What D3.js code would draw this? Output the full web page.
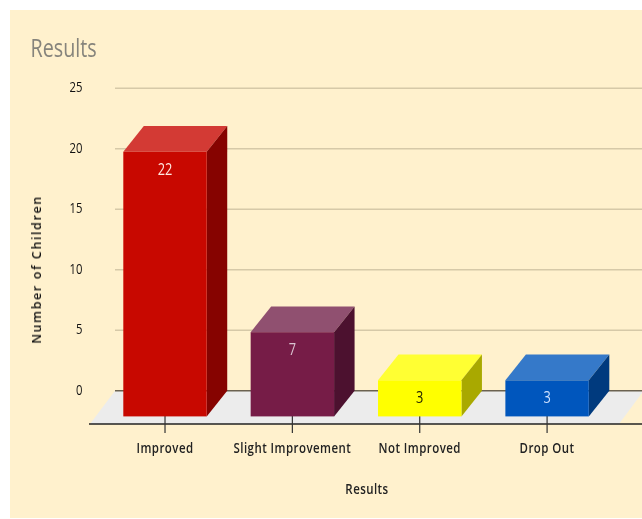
<!DOCTYPE html>
<html><head><meta charset="utf-8">
<script src="https://cdnjs.cloudflare.com/ajax/libs/d3/7.8.5/d3.min.js"></script>
<style>html,body{margin:0;padding:0;background:#fff}svg{display:block}
text{font-family:"Open Sans","Noto Sans",sans-serif;filter:blur(0.3px)}</style></head>
<body><svg id="c" width="642" height="519"></svg>
<script>
const categories=["Improved","Slight Improvement","Not Improved","Drop Out"];
const values=[22,7,3,3];
const yTicks=[0,5,10,15,20,25];
const frontColors=["#c80800","#761c47","#ffff00","#0056bd"];
const topColors=["#d33a34","#905070","#ffff33","#3579c9"];
const sideColors=["#860300","#4c112f","#a9a900","#003a7e"];
const labelColors=["#ffe9e0","#d9c3d0","#222200","#cfe2ff"];

const svg=d3.select("#c");
const W=642;
svg.append("rect").attr("x",10).attr("y",10).attr("width",W-10).attr("height",508).attr("fill","#fff1cd");

const y=d3.scaleLinear().domain([0,25]).range([390.7,88.2]);
const barH=d3.scaleLinear().domain([0,25]).range([0,300.7]);
const x=d3.scaleBand().domain(categories).range([101.4,610.7]).paddingInner(0.345).paddingOuter(0.172);
const dx=20.5, dy=25.7;
const base=y(0)+dy;

function label(sel,t,px,py,size,opts={}){
  return sel.append("text").attr("transform",`translate(${px},${py}) scale(${opts.sx||0.8},1)`)
    .attr("text-anchor",opts.anchor||"middle").attr("font-size",size)
    .attr("letter-spacing",opts.ls||0)
    .attr("fill",opts.fill||"#222").attr("font-weight",opts.weight||400).text(t);
}

svg.append("text").attr("transform","translate(30.5,56.5) scale(0.79,1)").attr("font-size",25).attr("fill","#86847c").text("Results");

svg.append("path").attr("d",d3.line()([[90,424],[115,y(0)],[W,y(0)],[W,393],[619,424]])+"Z").attr("fill","#ececec");

svg.append("g").selectAll("line").data(yTicks.filter(d=>d>0)).join("line")
  .attr("x1",115).attr("x2",W).attr("y1",d=>y(d)).attr("y2",d=>y(d))
  .attr("stroke","#d6c9a8").attr("stroke-width",1.4);
svg.append("line").attr("x1",115).attr("x2",W).attr("y1",y(0)).attr("y2",y(0)).attr("stroke","#6b6250").attr("stroke-width",1.4);
svg.append("line").attr("x1",89).attr("x2",W).attr("y1",424).attr("y2",424).attr("stroke","#222").attr("stroke-width",1.3);

yTicks.forEach(d=>label(svg,d,82.5,y(d)+4,14.5,{anchor:"end",sx:0.78,fill:"#111",weight:500}));

categories.forEach(c=>{
  const cx=x(c)+x.bandwidth()/2;
  svg.append("line").attr("x1",cx).attr("x2",cx).attr("y1",416).attr("y2",433).attr("stroke","#333").attr("stroke-width",1.2);
  label(svg,c,cx,452.5,14,{sx:0.82,ls:0.55,fill:"#222",weight:600});
});

const bars=svg.append("g").selectAll("g").data(categories).join("g");
bars.each(function(c,i){
  const g=d3.select(this),l=x(c),r=l+x.bandwidth(),t=base-barH(values[i]);
  const poly=(pts,f)=>g.append("path").attr("d",d3.line()(pts)+"Z").attr("fill",f);
  poly([[l,t],[l+dx,t-dy],[r+dx,t-dy],[r,t]],topColors[i]);
  poly([[r,t],[r+dx,t-dy],[r+dx,base-dy],[r,base]],sideColors[i]);
  g.append("rect").attr("x",l).attr("y",t).attr("width",x.bandwidth()).attr("height",base-t).attr("fill",frontColors[i]);
  label(g,values[i],(l+r)/2,t+23,16,{sx:0.8,fill:labelColors[i]});
});

svg.append("text").attr("transform","translate(41,269.5) rotate(-90)").attr("text-anchor","middle")
  .attr("font-size",12.5).attr("font-weight",600).attr("letter-spacing",1.6).attr("fill","#111").text("Number of Children");
label(svg,"Results",367,494,14,{sx:0.82,ls:0.55,fill:"#222",weight:600});
</script></body></html>
